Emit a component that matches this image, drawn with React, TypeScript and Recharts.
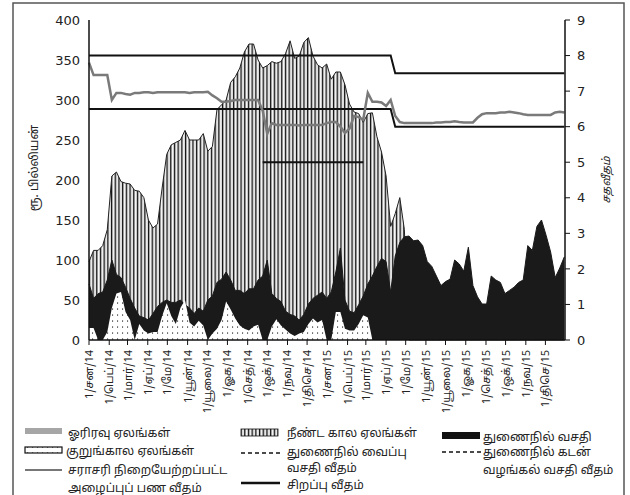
import React from "react";
import { ComposedChart, Area, Line, XAxis, YAxis } from "recharts";

const FONT = "'Noto Sans Tamil', 'Noto Sans', 'DejaVu Sans', sans-serif";

// month tick labels (Tamil abbreviations)
const monthNames = ["சன", "பெப்", "மார்", "ஏப்", "மே", "யூன்", "யூலை", "ஓக", "செத்", "ஒக்", "நவ", "திசெ"];
const years = [2014, 2015];

// weekly readings, first point 1 Jan 2014 (Rs. bn)
const longTerm = [
  98, 112, 112, 118, 138, 205, 210, 198, 196, 195,
  187, 186, 178, 150, 140, 145, 190, 232, 244, 247,
  250, 262, 250, 250, 250, 258, 236, 242, 288, 294,
  300, 322, 329, 340, 360, 370, 370, 350, 340, 343,
  348, 346, 348, 358, 374, 352, 355, 372, 378, 355,
  344, 340, 345, 326, 335, 335, 319, 295, 285, 283,
  272, 283, 284, 254, 235, 205, 142, 158, 178, 138,
  0, 0, 0, 0, 0, 0, 0, 0, 0, 0,
  0, 0, 0, 0, 0, 0, 0, 0, 0, 0,
  0, 0, 0, 0, 0, 0, 0, 0, 0, 0,
  0, 0, 0, 0, 0,
];

const standingFacility = [
  70, 52, 58, 60, 75, 100, 82, 78, 66, 52,
  40, 30, 28, 25, 33, 42, 47, 50, 47, 47,
  50, 44, 40, 33, 40, 36, 50, 55, 72, 76,
  85, 75, 62, 62, 58, 64, 64, 75, 80, 100,
  58, 52, 48, 36, 32, 30, 25, 32, 45, 52,
  56, 60, 52, 60, 85, 115, 50, 36, 34, 44,
  55, 70, 80, 92, 102, 98, 60, 105, 122, 129,
  130, 124, 125, 118, 98, 92, 80, 68, 73, 76,
  100, 95, 86, 116, 68, 54, 45, 45, 80, 75,
  72, 58, 62, 66, 72, 75, 118, 112, 142, 150,
  131, 110, 78, 90, 104,
];

const shortTerm = [
  15, 15, 0, 0, 10, 40, 58, 60, 35, 25,
  0, 20, 12, 8, 10, 10, 30, 46, 30, 20,
  40, 50, 22, 17, 24, 18, 0, 8, 14, 25,
  48, 38, 27, 18, 14, 12, 17, 19, 0, 0,
  17, 26, 18, 13, 8, 5, 8, 10, 20, 27,
  22, 25, 0, 0, 35, 35, 14, 12, 12, 20,
  31, 28, 0, 0, 0, 0, 0, 0, 0, 0,
  0, 0, 0, 0, 0, 0, 0, 0, 0, 0,
  0, 0, 0, 0, 0, 0, 0, 0, 0, 0,
  0, 0, 0, 0, 0, 0, 0, 0, 0, 0,
  0, 0, 0, 0, 0,
];

// weighted average call money rate (%)
const callRate = [
  7.8, 7.45, 7.45, 7.45, 7.45, 6.75, 6.95, 6.95, 6.92, 6.9,
  6.95, 6.95, 6.97, 6.97, 6.95, 6.97, 6.97, 6.97, 6.97, 6.97,
  6.97, 6.97, 6.95, 6.97, 6.97, 6.97, 6.98, 6.88, 6.8, 6.7,
  6.7, 6.72, 6.75, 6.75, 6.75, 6.75, 6.75, 6.75, 6.45, 5.8,
  6.1, 6.05, 6.05, 6.05, 6.05, 6.05, 6.03, 6.05, 6.05, 6.05,
  6.05, 6.05, 6.1, 6.13, 6.13, 6.0, 5.82, 5.95, 6.3, 6.27,
  6.2, 6.95, 6.7, 6.7, 6.68, 6.58, 6.75, 6.3, 6.13, 6.1,
  6.1, 6.1, 6.1, 6.1, 6.1, 6.1, 6.12, 6.12, 6.13, 6.13,
  6.15, 6.13, 6.12, 6.12, 6.12, 6.25, 6.35, 6.38, 6.38, 6.38,
  6.4, 6.4, 6.42, 6.4, 6.38, 6.35, 6.33, 6.33, 6.33, 6.33,
  6.33, 6.33, 6.4, 6.42, 6.4,
];

// policy rates, effective from date
const depositRateSteps = [
  { from: "2014-01-01", value: 6.5 },
  { from: "2015-04-15", value: 6.0 },
];
const lendingRateSteps = [
  { from: "2014-01-01", value: 8.0 },
  { from: "2015-04-15", value: 7.5 },
];
const specialRatePeriod = { from: "2014-09-22", to: "2015-02-28", value: 5.0 };

const DAY = 86400000;
const START = Date.UTC(2014, 0, 1);
const dayOf = (s: string) => (Date.parse(s) - START) / DAY;

const stepAt = (steps: { from: string; value: number }[], day: number) => {
  let v = steps[0].value;
  steps.forEach((s) => {
    if (day >= dayOf(s.from)) v = s.value;
  });
  return v;
};

const tickDays: number[] = [];
const tickLabels: string[] = [];
years.forEach((y) =>
  monthNames.forEach((m, k) => {
    tickDays.push((Date.UTC(y, k, 1) - START) / DAY);
    tickLabels.push(`1/${m}/${String(y).slice(2)}`);
  })
);

const data = longTerm.map((v, i) => {
  const day = i * 7;
  return {
    day,
    long: v,
    facility: standingFacility[i],
    short: shortTerm[i],
    call: callRate[i],
    sdf: stepAt(depositRateSteps, day),
    slf: stepAt(lendingRateSteps, day),
    special:
      day >= dayOf(specialRatePeriod.from) && day <= dayOf(specialRatePeriod.to)
        ? specialRatePeriod.value
        : null,
  };
});

const MonthTick = (props: any) => {
  const { x, y, payload } = props;
  const idx = tickDays.indexOf(payload.value);
  return (
    <text
      x={x}
      y={y}
      dx={-1}
      dy={4}
      transform={`rotate(-90 ${x} ${y})`}
      textAnchor="end"
      fontSize={11}
      fontFamily={FONT}
      fill="#222"
    >
      {idx >= 0 ? tickLabels[idx] : ""}
    </text>
  );
};

const Patterns = ({ prefix }: { prefix: string }) => (
  <defs>
    <pattern id={`${prefix}stripes`} width={3.7} height={10} patternUnits="userSpaceOnUse">
      <rect x={0} y={0} width={3.7} height={10} fill="#d0d0d0" />
      <rect x={0} y={0} width={1.2} height={10} fill="#111" />
      <rect x={1.8} y={0} width={1.2} height={10} fill="#f7f7f7" />
    </pattern>
    <pattern id={`${prefix}dots`} width={5} height={6} patternUnits="userSpaceOnUse">
      <rect x={0} y={0} width={5} height={6} fill="#fff" />
      <rect x={2} y={2.5} width={1.1} height={1.1} fill="#111" />
    </pattern>
  </defs>
);

const legendText = { fontSize: 12, fontFamily: FONT, fill: "#222" };

export default function App() {
  return (
    <div style={{ position: "absolute", left: 0, top: 0, width: 630, height: 495, background: "#fff", overflow: "hidden" }}>
      <ComposedChart
        width={630}
        height={430}
        data={data}
        margin={{ top: 20, left: 29, right: 25, bottom: 10 }}
      >
        <Patterns prefix="c-" />
        <XAxis
          dataKey="day"
          type="number"
          domain={[0, 729]}
          ticks={tickDays}
          interval={0}
          height={80}
          tick={<MonthTick />}
          tickSize={5}
          tickMargin={4}
          axisLine={{ stroke: "#111", strokeWidth: 1.5 }}
          tickLine={{ stroke: "#111" }}
          xAxisId="x"
        />
        <YAxis
          yAxisId="bn"
          domain={[0, 400]}
          ticks={[0, 50, 100, 150, 200, 250, 300, 350, 400]}
          width={60}
          tickSize={0}
          tickMargin={9}
          axisLine={{ stroke: "#111", strokeWidth: 1.5 }}
          tick={{ fontSize: 13, fill: "#222", fontFamily: "'DejaVu Sans', sans-serif" }}
        />
        <YAxis
          yAxisId="pct"
          orientation="right"
          domain={[0, 9]}
          ticks={[0, 1, 2, 3, 4, 5, 6, 7, 8, 9]}
          width={40}
          tickSize={5}
          tickMargin={7}
          axisLine={{ stroke: "#111", strokeWidth: 1.5 }}
          tickLine={{ stroke: "#111" }}
          tick={{ fontSize: 13, fill: "#222", fontFamily: "'DejaVu Sans', sans-serif", textAnchor: "start" }}
        />
        <Area
          xAxisId="x"
          yAxisId="bn"
          dataKey="long"
          type="linear"
          fill="url(#c-stripes)"
          fillOpacity={1}
          stroke="#222"
          strokeWidth={1}
          isAnimationActive={false}
        />
        <Area
          xAxisId="x"
          yAxisId="bn"
          dataKey="facility"
          type="linear"
          fill="#1a1a1a"
          fillOpacity={1}
          stroke="#1a1a1a"
          strokeWidth={1}
          isAnimationActive={false}
        />
        <Area
          xAxisId="x"
          yAxisId="bn"
          dataKey="short"
          type="linear"
          fill="url(#c-dots)"
          fillOpacity={1}
          stroke="none"
          isAnimationActive={false}
        />
        <Line xAxisId="x" yAxisId="pct" dataKey="slf" type="linear" stroke="#111" strokeWidth={2} dot={false} isAnimationActive={false} />
        <Line xAxisId="x" yAxisId="pct" dataKey="sdf" type="linear" stroke="#111" strokeWidth={2} dot={false} isAnimationActive={false} />
        <Line xAxisId="x" yAxisId="pct" dataKey="special" type="linear" stroke="#111" strokeWidth={2} dot={false} isAnimationActive={false} />
        <Line xAxisId="x" yAxisId="pct" dataKey="call" type="linear" stroke="#7a7a7a" strokeWidth={2.5} dot={false} isAnimationActive={false} />
      </ComposedChart>

      <svg width={630} height={495} style={{ position: "absolute", left: 0, top: 0, pointerEvents: "none" }}>
        <Patterns prefix="l-" />
        <rect x={13} y={3} width={611} height={510} fill="none" stroke="#555" strokeWidth={1.5} />

        <text transform="rotate(-90 38 168)" x={38} y={168} textAnchor="middle" fontSize={12} fontFamily={FONT} fill="#222">
          ரூ. பில்லியன்
        </text>
        <text transform="rotate(-90 610 180)" x={610} y={180} textAnchor="middle" fontSize={11} fontStyle="italic" fontFamily={FONT} fill="#222">
          சதவீதம்
        </text>

        <rect x={25} y={428} width={37} height={6} fill="#a6a6a6" />
        <text x={68} y={437} {...legendText}>ஓரிரவு ஏலங்கள்</text>
        <rect x={25} y={447} width={37} height={6} fill="url(#l-dots)" stroke="#111" strokeWidth={1.2} />
        <text x={66} y={455} {...legendText}>குறுங்கால ஏலங்கள்</text>
        <line x1={25} x2={62} y1={470} y2={470} stroke="#777" strokeWidth={2} />
        <text x={68} y={474} {...legendText}>சராசரி நிறையேற்றப்பட்ட</text>
        <text x={68} y={492} {...legendText}>அழைப்புப் பண வீதம்</text>

        <rect x={241} y={429} width={37} height={7} fill="url(#l-stripes)" stroke="#111" strokeWidth={0.8} />
        <text x={287} y={437} {...legendText}>நீண்ட கால ஏலங்கள்</text>
        <line x1={241} x2={283} y1={453} y2={453} stroke="#111" strokeWidth={1.3} strokeDasharray="4 3" />
        <text x={287} y={456} {...legendText}>துணைநில் வைப்பு</text>
        <text x={287} y={472} {...legendText}>வசதி வீதம்</text>
        <line x1={241} x2={280} y1={483} y2={483} stroke="#111" strokeWidth={2.5} />
        <text x={287} y={489} {...legendText}>சிறப்பு வீதம்</text>

        <rect x={442} y={432} width={38} height={7} fill="#111" />
        <text x={483} y={441} {...legendText}>துணைநில் வசதி</text>
        <line x1={442} x2={482} y1={452} y2={452} stroke="#111" strokeWidth={1.3} strokeDasharray="4 3" />
        <text x={483} y={456} {...legendText}>துணைநில் கடன்</text>
        <text x={483} y={474} {...legendText}>வழங்கல் வசதி வீதம்</text>
      </svg>
    </div>
  );
}
